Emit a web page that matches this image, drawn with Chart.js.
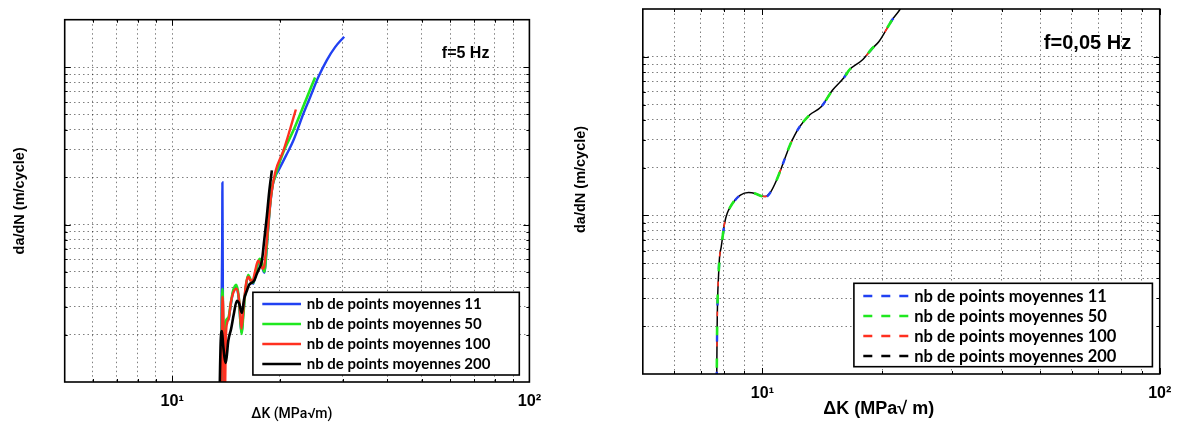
<!DOCTYPE html>
<html><head><meta charset="utf-8">
<script src="https://cdn.jsdelivr.net/npm/chart.js@4.4.0/dist/chart.umd.min.js"></script>
<style>
html,body{margin:0;padding:0;background:#fff;}
#wrap{position:relative;width:1181px;height:423px;overflow:hidden;background:#fff;}
#c1{position:absolute;left:0;top:0;}
#c2{position:absolute;left:570px;top:0;}
</style></head><body>
<div id="wrap"><canvas id="c1" width="570" height="423"></canvas><canvas id="c2" width="611" height="423"></canvas></div>
<script>
// ---------- axis ticks ----------
const xGridValues = [6,7,8,9,10,20,30,40,50,60,70,80,90,100];
const xLabelValues = [10,100];
const xLabelTexts = ['10\u00b9','10\u00b2'];
const yGridValues = [2e-9,3e-9,4e-9,5e-9,6e-9,7e-9,8e-9,9e-9,1e-8,2e-8,3e-8,4e-8,5e-8,6e-8,7e-8,8e-8,9e-8,1e-7];
const seriesLabels = ['nb de points moyennes 11','nb de points moyennes 50','nb de points moyennes 100','nb de points moyennes 200'];

// ---------- f = 5 Hz ----------
const dk5_n11 = [13.69,13.75,13.80,13.82,13.85,13.91,14.00,14.11,14.25,14.39,14.58,14.81,15.10,15.35,15.55,15.65,15.80,16.06,16.32,16.58,16.86,17.18,17.57,17.80,17.98,18.13,18.26,18.50,18.80,19.11,19.42,19.84,20.84,21.85,23.30,24.33,25.67,27.10,28.58,30.29];
const dadn5_n11 = [7.6e-10,3.28e-9,7.91e-9,1.85e-8,5.90e-9,7.6e-10,2.11e-9,2.38e-9,2.45e-9,2.52e-9,3.05e-9,3.74e-9,4.03e-9,3.38e-9,2.27e-9,2.05e-9,2.67e-9,3.91e-9,4.73e-9,4.40e-9,4.21e-9,5.09e-9,5.98e-9,5.73e-9,5.09e-9,4.94e-9,5.73e-9,8.51e-9,1.32e-8,1.77e-8,2.02e-8,2.21e-8,2.75e-8,3.43e-8,5.07e-8,6.44e-8,8.68e-8,1.108e-7,1.34e-7,1.56e-7];
const dk5_n50 = [13.71,13.77,13.82,13.91,14.00,14.11,14.25,14.39,14.58,14.81,15.10,15.35,15.55,15.65,15.80,16.06,16.32,16.58,16.86,17.18,17.57,17.80,17.98,18.13,18.26,18.50,18.80,19.11,19.42,19.64,20.45,21.85,23.41,25.12];
const dadn5_n50 = [7.6e-10,2.45e-9,3.91e-9,2.11e-9,1.70e-9,2.38e-9,2.52e-9,2.59e-9,3.14e-9,3.80e-9,4.15e-9,3.48e-9,2.31e-9,2.02e-9,2.59e-9,3.97e-9,4.80e-9,4.46e-9,4.27e-9,5.17e-9,6.07e-9,5.81e-9,5.24e-9,5.02e-9,5.90e-9,8.76e-9,1.36e-8,1.80e-8,2.02e-8,2.21e-8,2.87e-8,3.97e-8,5.81e-8,8.60e-8];
const dk5_n100 = [13.73,13.80,13.85,13.94,14.03,14.14,14.25,14.39,14.62,14.86,15.15,15.40,15.63,15.85,16.11,16.35,16.58,16.83,17.07,17.40,17.69,17.92,18.09,18.20,18.56,18.92,19.42,20.49,21.25,22.19];
const dadn5_n100 = [7.6e-10,2.83e-9,3.48e-9,1.82e-9,7.6e-10,1.96e-9,2.38e-9,2.52e-9,3.28e-9,3.74e-9,3.91e-9,3.28e-9,2.18e-9,3.05e-9,4.27e-9,4.66e-9,4.40e-9,4.46e-9,5.09e-9,5.90e-9,5.56e-9,5.24e-9,5.40e-9,6.07e-9,9.85e-9,1.53e-8,2.14e-8,2.96e-8,3.85e-8,5.38e-8];
const dk5_n200 = [13.56,13.67,13.78,13.89,14.13,14.35,14.62,14.86,15.17,15.40,15.67,15.90,16.18,16.43,16.71,16.96,17.26,17.51,17.83,18.09,18.41,18.68,19.01];
const dadn5_n200 = [7.6e-10,1.82e-9,2.11e-9,1.70e-9,1.32e-9,1.82e-9,2.18e-9,2.67e-9,3.28e-9,3.14e-9,2.75e-9,3.38e-9,3.80e-9,4.15e-9,4.27e-9,4.40e-9,4.87e-9,5.24e-9,5.90e-9,7.91e-9,1.14e-8,1.60e-8,2.21e-8];

// ---------- f = 0,05 Hz ----------
const dk005 = [7.667,7.676,7.691,7.713,7.757,7.802,7.878,7.951,8.030,8.155,8.311,8.470,8.801,9.228,9.590,9.926,10.16,10.45,10.86,11.28,11.50,11.72,12.06,12.41,13.14,14.06,15.02,16.07,16.54,17.84,18.90,19.63,21.19,22.23,22.65];
const dadn005_n11 = [6.9e-10,1.0e-9,1.90e-9,2.93e-9,4.21e-9,5.47e-9,6.35e-9,7.52e-9,8.92e-9,1.031e-8,1.134e-8,1.22e-8,1.344e-8,1.394e-8,1.374e-8,1.325e-8,1.30e-8,1.384e-8,1.671e-8,2.14e-8,2.44e-8,2.76e-8,3.21e-8,3.62e-8,4.29e-8,4.84e-8,6.17e-8,7.42e-8,8.25e-8,9.53e-8,1.129e-7,1.243e-7,1.703e-7,2.00e-7,2.18e-7];
const dadn005_n50 = [6.9e-10,1.0e-9,1.90e-9,2.93e-9,4.21e-9,5.47e-9,6.35e-9,7.52e-9,8.92e-9,1.031e-8,1.134e-8,1.22e-8,1.344e-8,1.394e-8,1.374e-8,1.325e-8,1.316e-8,1.384e-8,1.671e-8,2.14e-8,2.44e-8,2.76e-8,3.21e-8,3.62e-8,4.29e-8,4.84e-8,6.17e-8,7.42e-8,8.25e-8,9.53e-8,1.129e-7,1.243e-7,1.703e-7,2.00e-7,2.18e-7];
const dadn005_n100 = [6.9e-10,1.0e-9,1.90e-9,2.93e-9,4.21e-9,5.47e-9,6.35e-9,7.52e-9,8.92e-9,1.031e-8,1.134e-8,1.22e-8,1.344e-8,1.394e-8,1.374e-8,1.325e-8,1.316e-8,1.384e-8,1.671e-8,2.14e-8,2.44e-8,2.76e-8,3.21e-8,3.62e-8,4.25e-8,4.84e-8,6.17e-8,7.42e-8,8.25e-8,9.53e-8,1.129e-7,1.243e-7,1.703e-7,2.00e-7,2.18e-7];
const dadn005_n200 = [6.9e-10,1.0e-9,1.90e-9,2.93e-9,4.21e-9,5.47e-9,6.35e-9,7.52e-9,8.92e-9,1.031e-8,1.134e-8,1.22e-8,1.344e-8,1.394e-8,1.374e-8,1.325e-8,1.316e-8,1.384e-8,1.671e-8,2.14e-8,2.44e-8,2.76e-8,3.21e-8,3.62e-8,4.29e-8,4.84e-8,6.17e-8,7.42e-8,8.25e-8,9.53e-8,1.129e-7,1.243e-7,1.703e-7,2.00e-7,2.18e-7];

const COLORS = ['#2141f2','#1fe81f','#ff3020','#000000'];

function pts(xs, ys){ return xs.map((x,i)=>({x:x, y:ys[i]})); }
function isDecade(v){ const l=Math.log10(v); return Math.abs(l-Math.round(l))<1e-9; }

function makeDecor(cfg){
  return {
    id:'decor',
    afterDraw(chart){
      const ctx=chart.ctx, a=chart.chartArea, xs=chart.scales.x, ys=chart.scales.y;
      ctx.save();
      ctx.strokeStyle='#000'; ctx.lineWidth=1; ctx.setLineDash([]);
      ctx.beginPath();
      xs.ticks.forEach(t=>{ const p=Math.round(xs.getPixelForValue(t.value))+0.5; const L=isDecade(t.value)?6:3;
        ctx.moveTo(p,a.bottom); ctx.lineTo(p,a.bottom-L); ctx.moveTo(p,a.top); ctx.lineTo(p,a.top+L); });
      ys.ticks.forEach(t=>{ const p=Math.round(ys.getPixelForValue(t.value))+0.5; const L=isDecade(t.value)?6:3;
        ctx.moveTo(a.left,p); ctx.lineTo(a.left+L,p); ctx.moveTo(a.right,p); ctx.lineTo(a.right-L,p); });
      ctx.stroke();
      ctx.lineWidth=1.6; ctx.strokeRect(a.left,a.top,a.right-a.left,a.bottom-a.top);
      ctx.fillStyle='#000'; ctx.font=cfg.noteFont; ctx.textAlign='center'; ctx.textBaseline='middle';
      ctx.fillText(cfg.note, cfg.noteX, cfg.noteY);
      const L=cfg.legend;
      ctx.fillStyle='#fff'; ctx.fillRect(L.x,L.y,L.w,L.h);
      ctx.strokeStyle='#000'; ctx.lineWidth=1.6; ctx.strokeRect(L.x,L.y,L.w,L.h);
      ctx.font=L.font; ctx.textAlign='left'; ctx.textBaseline='middle';
      chart.data.datasets.forEach((ds,i)=>{
        const yy=L.row0+i*L.rowGap;
        ctx.strokeStyle=ds.borderColor; ctx.lineWidth=L.lineWidth; ctx.setLineDash(L.dash);
        ctx.beginPath(); ctx.moveTo(L.lx0,yy); ctx.lineTo(L.lx1,yy); ctx.stroke();
        ctx.setLineDash([]);
        ctx.fillStyle='#000'; ctx.fillText(ds.label, L.tx, yy+0.5);
      });
      ctx.restore();
    }
  };
}

function makeOptions(cfg){
  const gridCol='rgba(0,0,0,0.5)';
  return {
    responsive:false, animation:false, devicePixelRatio:1,
    layout:{padding:{top:cfg.padTop,right:cfg.padRight,left:0,bottom:0}},
    elements:{point:{radius:0}, line:{cubicInterpolationMode:'monotone', fill:false}},
    plugins:{legend:{display:false}, tooltip:{enabled:false}},
    scales:{
      x:{
        type:'logarithmic', min:5, max:100,
        afterBuildTicks:s=>{ s.ticks=xGridValues.map(v=>({value:v})); },
        afterFit:s=>{ s.height=cfg.xAxisH; },
        ticks:{autoSkip:false, maxRotation:0, minRotation:0, padding:cfg.tickPad, color:'#000',
          font:{family:'Liberation Sans', size:cfg.tickSize, weight:'bold'},
          callback:v=>{ const i=xLabelValues.indexOf(v); return i>=0?xLabelTexts[i]:''; }},
        grid:{color:gridCol, lineWidth:1, drawTicks:false},
        border:{display:false, dash:[1.5,3]},
        title:{display:true, text:cfg.xTitle, color:'#000', font:cfg.xTitleFont, padding:{top:0,bottom:cfg.xTitlePadB}}
      },
      y:{
        type:'logarithmic', min:1e-9, max:2e-7,
        afterBuildTicks:s=>{ s.ticks=yGridValues.map(v=>({value:v})); },
        afterFit:s=>{ s.width=cfg.yAxisW; },
        ticks:{display:false},
        grid:{color:gridCol, lineWidth:1, drawTicks:false},
        border:{display:false, dash:[1.5,3]},
        title:{display:true, text:cfg.yTitle, color:'#000', font:cfg.yTitleFont, padding:{top:cfg.yTitlePadT,bottom:0}}
      }
    }
  };
}

// ---------- left chart : f=5 Hz ----------
const leftCfg = {
  padTop:19.7, padRight:40.6, xAxisH:41, yAxisW:64.7, tickPad:9.9, tickSize:16.3,
  xTitle:'\u0394K (MPa\u221am)\u00a0\u00a0\u00a0', xTitleFont:{family:'Roboto', size:14, weight:'500'}, xTitlePadB:0,
  yTitle:'da/dN (m/cycle)', yTitleFont:{family:'Liberation Sans', size:14.5, weight:'bold'}, yTitlePadT:10.8,
  note:'f=5 Hz', noteFont:'bold 16px "Liberation Sans"', noteX:465.6, noteY:54,
  legend:{x:252.9, y:292.3, w:266.4, h:82.7, lx0:262.3, lx1:301, tx:306.7, row0:304, rowGap:20,
          font:'bold 15px Lato', lineWidth:2.6, dash:[]}
};
new Chart(document.getElementById('c1'), {
  type:'line',
  data:{datasets:[
    {label:seriesLabels[0], data:pts(dk5_n11,dadn5_n11), borderColor:COLORS[0], borderWidth:2.4, order:3},
    {label:seriesLabels[1], data:pts(dk5_n50,dadn5_n50), borderColor:COLORS[1], borderWidth:2.6, order:2},
    {label:seriesLabels[2], data:pts(dk5_n100,dadn5_n100), borderColor:COLORS[2], borderWidth:2.4, order:1},
    {label:seriesLabels[3], data:pts(dk5_n200,dadn5_n200), borderColor:COLORS[3], borderWidth:2.6, order:0}
  ]},
  options:makeOptions(leftCfg),
  plugins:[makeDecor(leftCfg)]
});

// ---------- right chart : f=0,05 Hz ----------
const rightCfg = {
  padTop:9, padRight:17, xAxisH:49, yAxisW:72.8, tickPad:9.7, tickSize:16,
  xTitle:'\u0394K (MPa\u221a m)\u00a0\u00a0\u00a0\u00a0\u00a0\u00a0\u00a0\u00a0\u00a0', xTitleFont:{family:'Liberation Sans', size:18, weight:'bold'}, xTitlePadB:3.2,
  yTitle:'\u00a0\u00a0\u00a0\u00a0\u00a0\u00a0da/dN (m/cycle)', yTitleFont:{family:'Liberation Sans', size:14.5, weight:'bold'}, yTitlePadT:2.3,
  note:'f=0,05 Hz', noteFont:'bold 20px "Liberation Sans"', noteX:517.5, noteY:43.5,
  legend:{x:283.9, y:283.3, w:298.5, h:83.4, lx0:293.3, lx1:338.5, tx:344.2, row0:296, rowGap:20,
          font:'bold 16.5px Lato', lineWidth:2.5, dash:[9,9]}
};
new Chart(document.getElementById('c2'), {
  type:'line',
  data:{datasets:[
    {label:seriesLabels[0], data:pts(dk005,dadn005_n11), borderColor:COLORS[0], borderWidth:2.4, borderDash:[6,30], borderDashOffset:14, order:1},
    {label:seriesLabels[1], data:pts(dk005,dadn005_n50), borderColor:COLORS[1], borderWidth:2.6, borderDash:[9,23], borderDashOffset:0, order:0},
    {label:seriesLabels[2], data:pts(dk005,dadn005_n100), borderColor:COLORS[2], borderWidth:1.6, borderDash:[5,25], borderDashOffset:7, order:2},
    {label:seriesLabels[3], data:pts(dk005,dadn005_n200), borderColor:COLORS[3], borderWidth:1.5, order:3}
  ]},
  options:makeOptions(rightCfg),
  plugins:[makeDecor(rightCfg)]
});
</script>
</body></html>
